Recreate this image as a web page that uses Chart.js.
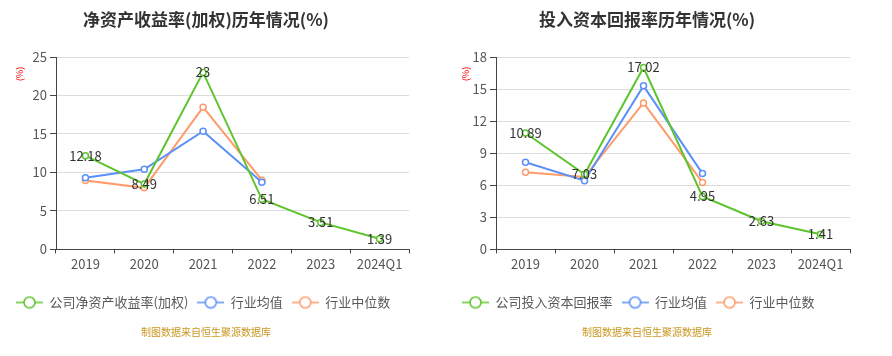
<!DOCTYPE html>
<html><head><meta charset="utf-8">
<script src="https://cdn.jsdelivr.net/npm/chart.js@4/dist/chart.umd.min.js"></script>
<style>
html,body{margin:0;padding:0;background:#fff;}
#wrap{position:relative;width:892px;height:356px;}
.box{position:absolute;top:0;width:446px;height:356px;}
</style></head><body>
<div id="wrap">
<div class="box" style="left:0"><canvas id="c1" width="446" height="356"></canvas></div>
<div class="box" style="left:446px"><canvas id="c2" width="446" height="356"></canvas></div>
</div>
<script>
const categories = ['2019','2020','2021','2022','2023','2024Q1'];
// Chart 1: 净资产收益率(加权)
const roeCompany = [12.18, 8.49, 23, 6.51, 3.51, 1.39];
const roeIndustryAvg = [9.3, 10.4, 15.36, 8.74, null, null];
const roeIndustryMedian = [8.96, 8.0, 18.48, 9.0, null, null];
const roeTicks = [0, 5, 10, 15, 20, 25];
// Chart 2: 投入资本回报率
const roicCompany = [10.89, 7.03, 17.02, 4.95, 2.63, 1.41];
const roicIndustryAvg = [8.15, 6.43, 15.3, 7.09, null, null];
const roicIndustryMedian = [7.21, 6.77, 13.7, 6.27, null, null];
const roicTicks = [0, 3, 6, 9, 12, 15, 18];

const GREEN = '#5ec42e', BLUE = '#5b8ff9', ORANGE = '#ff9b6a';
const FONT = '"Noto Sans CJK SC", "Noto Sans", sans-serif';

function marker(color){
  const c = document.createElement('canvas');
  c.width = 27; c.height = 14;
  const x = c.getContext('2d');
  x.strokeStyle = color; x.lineWidth = 1.5;
  x.beginPath(); x.moveTo(0,7); x.lineTo(27,7); x.stroke();
  x.beginPath(); x.arc(13.5,7,5.5,0,Math.PI*2); x.fillStyle='#fff'; x.fill(); x.stroke();
  return c;
}

const decor = {
  id: 'decor',
  afterDatasetsDraw(chart, args, opts){
    const ctx = chart.ctx;
    ctx.save();
    const meta = chart.getDatasetMeta(0);
    const data = chart.data.datasets[0].data;
    ctx.font = '13px ' + FONT;
    ctx.fillStyle = '#333';
    ctx.textAlign = 'center'; ctx.textBaseline = 'middle';
    meta.data.forEach((pt, i) => {
      if (data[i] == null) return;
      ctx.fillText(String(data[i]), pt.x, pt.y);
    });
    ctx.restore();
  },
  afterDraw(chart, args, opts){
    const ctx = chart.ctx;
    ctx.save();
    ctx.textAlign = 'center'; ctx.textBaseline = 'middle';
    ctx.font = 'bold 17px ' + FONT;
    ctx.fillStyle = '#333';
    ctx.fillText(opts.title, opts.titleX, 20);
    ctx.font = '10px ' + FONT;
    ctx.fillStyle = '#c8961f';
    ctx.fillText('制图数据来自恒生聚源数据库', opts.titleX, 332);
    ctx.translate(20, 74);
    ctx.rotate(-Math.PI/2);
    ctx.font = '9px ' + FONT;
    ctx.fillStyle = '#ff0000';
    ctx.fillText('(%)', 0, 0);
    ctx.restore();
  }
};

function makeChart(id, label, company, avg, median, ticks, yWidth, padRight, title, titleX){
  const maxV = ticks[ticks.length-1];
  const step = ticks[1]-ticks[0];
  const ds = (lbl, d, col) => ({
    label: lbl, data: d, borderColor: col, backgroundColor: '#fff',
    borderWidth: 2, pointRadius: 3, pointHoverRadius: 3, pointBorderWidth: 1.5,
    pointBackgroundColor: '#fff', pointBorderColor: col, tension: 0, spanGaps: false,
    pointStyle: 'circle'
  });
  return new Chart(document.getElementById(id), {
    type: 'line',
    data: {
      labels: categories,
      datasets: [ds(label, company, GREEN), ds('行业均值', avg, BLUE), ds('行业中位数', median, ORANGE)]
    },
    options: {
      responsive: false, animation: false,
      layout: { padding: { top: 57, left: 7, right: padRight, bottom: 37 } },
      plugins: {
        title: { display: false },
        tooltip: { enabled: false },
        legend: {
          position: 'bottom', align: 'start',
          labels: {
            usePointStyle: true, pointStyleWidth: 27, boxHeight: 14,
            padding: 9, color: '#595959',
            font: { size: 13, family: FONT },
            generateLabels(chart){
              return chart.data.datasets.map((d, i) => ({
                text: d.label, fillStyle: '#fff', strokeStyle: d.borderColor,
                pointStyle: marker(d.borderColor), datasetIndex: i, hidden: false,
                fontColor: '#595959', lineWidth: 0
              }));
            }
          }
        },
        decor: { title: title, titleX: titleX }
      },
      scales: {
        x: {
          offset: true,
          grid: { display: true, drawOnChartArea: false, drawTicks: true, tickLength: 4, tickColor: '#444', offset: true },
          border: { display: true, color: '#444', width: 1 },
          ticks: { color: '#555', font: { size: 13, family: FONT }, padding: 3, maxRotation: 0, autoSkip: false },
          afterFit(s){ s.height += 12; }
        },
        y: {
          min: 0, max: maxV,
          afterBuildTicks(s){ s.ticks = ticks.map(v => ({ value: v })); },
          grid: { color: '#dcdcdc', lineWidth: 1, drawTicks: true, tickLength: 6, tickColor: '#444' },
          border: { display: true, color: '#444', width: 1 },
          ticks: { stepSize: step, color: '#555', font: { size: 13, family: FONT }, padding: 3 },
          afterFit(s){ s.width = yWidth; }
        }
      }
    },
    plugins: [decor]
  });
}

makeChart('c1', '公司净资产收益率(加权)', roeCompany, roeIndustryAvg, roeIndustryMedian, roeTicks, 49, 37, '净资产收益率(加权)历年情况(%)', 206);
makeChart('c2', '公司投入资本回报率', roicCompany, roicIndustryAvg, roicIndustryMedian, roicTicks, 43, 42, '投入资本回报率历年情况(%)', 201);
</script>
</body></html>
